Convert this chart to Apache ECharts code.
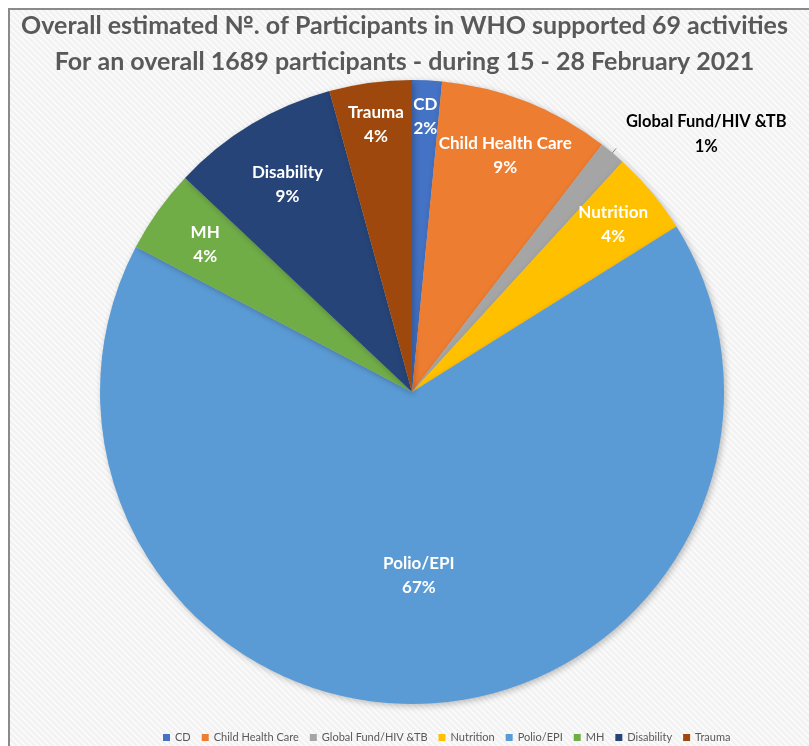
<!DOCTYPE html>
<html>
<head>
<meta charset="utf-8">
<script src="https://cdn.jsdelivr.net/npm/echarts@6/dist/echarts.min.js"></script>
<style>
html,body{margin:0;padding:0;background:#fff;}
#chart{width:809px;height:746px;}
</style>
</head>
<body>
<div id="chart"></div>
<script>
// ---- data ----
var titleLines = ['Overall estimated №. of Participants in WHO supported 69 activities',
                  'For an overall 1689 participants - during 15 - 28 February 2021'];
var categories = ['CD', 'Child Health Care', 'Global Fund/HIV &TB', 'Nutrition', 'Polio/EPI', 'MH', 'Disability', 'Trauma'];
var participants = [26, 150, 23, 73, 1125, 73, 147, 72];
var colors = ['#4472C4', '#ED7D31', '#A5A5A5', '#FFC000', '#5B9BD5', '#70AD47', '#264478', '#9E480E'];

// ---- background hatch pattern ----
var pc = document.createElement('canvas');
pc.width = 6; pc.height = 6;
var g = pc.getContext('2d');
g.fillStyle = '#f2f2f2'; g.fillRect(0, 0, 6, 6);
g.strokeStyle = '#fdfdfd'; g.lineWidth = 1.4;
g.beginPath();
g.moveTo(-1, -1); g.lineTo(7, 7);
g.moveTo(-4, 2); g.lineTo(4, 10);
g.moveTo(2, -4); g.lineTo(10, 4);
g.stroke();

var CX = 412, CY = 392, R = 312;
var outsideNames = ['Global Fund/HIV &TB'];
// label placement (fraction of radius) for inside labels
var labelRings = [
  { ratio: 0.875, names: ['CD'] },
  { ratio: 0.855, names: ['Trauma'] },
  { ratio: 0.83, names: ['Nutrition'] },
  { ratio: 0.805, names: ['Child Health Care', 'MH'] },
  { ratio: 0.765, names: ['Disability'] },
  { ratio: 0.58, names: ['Polio/EPI'] }
];

function baseData(filter) {
  return categories.map(function (n, i) {
    return { name: n, value: participants[i], label: { show: filter(n) } };
  });
}

var labelFont = { color: '#fff', fontFamily: 'Lato', fontWeight: 'bold', fontSize: 17, lineHeight: 24 };

var series = [{
  type: 'pie', center: [CX, CY], radius: [0, R],
  startAngle: 90, clockwise: true, avoidLabelOverlap: false, percentPrecision: 0,
  itemStyle: { borderWidth: 0, shadowBlur: 6, shadowColor: 'rgba(0,0,0,0.25)', shadowOffsetX: 2, shadowOffsetY: 2 },
  label: {
    position: 'outside',
    padding: [0, 0, 28, 0],
    formatter: '{n|{b}}\n{n|{d}%}',
    rich: { n: { width: 170, align: 'center', color: '#000', fontFamily: 'Lato', fontWeight: 'bold', fontSize: 16.5, lineHeight: 25 } }
  },
  labelLine: { show: true, length: 6, length2: 0, lineStyle: { color: '#8c8c8c', width: 1 } },
  emphasis: { disabled: true },
  data: baseData(function (n) { return outsideNames.indexOf(n) >= 0; })
}];

labelRings.forEach(function (ring) {
  series.push({
    type: 'pie', center: [CX, CY], radius: [R * (2 * ring.ratio - 1), R], silent: true,
    startAngle: 90, clockwise: true, avoidLabelOverlap: false, percentPrecision: 0,
    itemStyle: { color: 'rgba(0,0,0,0)' },
    label: Object.assign({ position: 'inside', formatter: '{b}\n{d}%' }, labelFont),
    labelLine: { show: false },
    emphasis: { disabled: true },
    data: baseData(function (n) { return ring.names.indexOf(n) >= 0; })
  });
});

var chart = echarts.init(document.getElementById('chart'), null, { renderer: 'canvas' });
chart.setOption({
  animation: false,
  color: colors,
  graphic: [{
    type: 'rect', z: -10, silent: true,
    shape: { x: 9, y: 9, width: 830, height: 770 },
    style: { fill: { image: pc, repeat: 'repeat' }, stroke: '#8a8a8a', lineWidth: 2 }
  }],
  title: {
    text: titleLines.join('\n'),
    left: 'center', top: 3,
    textStyle: { color: '#595959', fontFamily: 'Lato', fontWeight: 'bold', fontSize: 25, lineHeight: 36 }
  },
  legend: {
    top: 727, left: 158,
    itemWidth: 7, itemHeight: 7, itemGap: 11,
    icon: 'rect',
    textStyle: { color: '#595959', fontFamily: 'Lato', fontSize: 11 },
    data: categories
  },
  series: series
});
</script>
</body>
</html>
